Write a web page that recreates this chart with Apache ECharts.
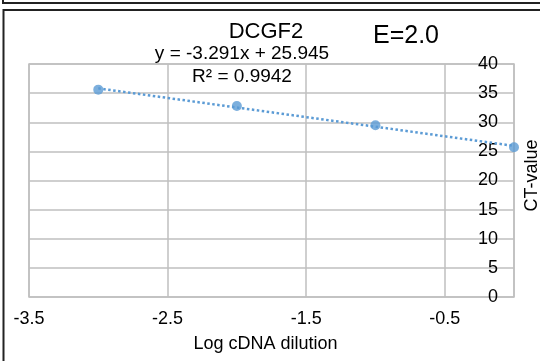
<!DOCTYPE html>
<html>
<head>
<meta charset="utf-8">
<script src="https://cdn.jsdelivr.net/npm/echarts@6/dist/echarts.min.js"></script>
<style>
  html, body { margin: 0; padding: 0; background: #fff; }
  #chart { width: 540px; height: 361px; }
</style>
</head>
<body>
<div id="chart"></div>
<script>
// dilution points (log) and measured CT values
const logDilution = [-3, -2, -1, 0]
const ctValues = [35.6, 32.8, 29.5, 25.7]
// linear trendline as shown on the chart
const slope = -3.291
const intercept = 25.945
const rSquared = 0.9942
const xTicks = [-3.5, -2.5, -1.5, -0.5]

const font = '"Liberation Sans", Arial, sans-serif'
const blue = '#5b9bd5'
const gridGrey = '#bfbfbf'

const chart = echarts.init(document.getElementById('chart'))

const trendX = [logDilution[0], logDilution[logDilution.length - 1]]
const trendData = trendX.map(x => [x, slope * x + intercept])

const option = {
  animation: false,
  backgroundColor: '#fff',
  textStyle: { fontFamily: font },
  grid: {
    left: 29, right: 26, top: 64, bottom: 64,
    outerBoundsMode: 'none',
    containLabel: false,
    show: true, borderColor: gridGrey, borderWidth: 1.5
  },
  xAxis: {
    type: 'value',
    min: -3.5, max: 0, interval: 1,
    axisLine: { show: false },
    axisTick: { show: false },
    splitLine: { lineStyle: { color: gridGrey, width: 1.5 } },
    axisLabel: {
      color: '#000', fontSize: 18, fontFamily: font, margin: 13,
      showMaxLabel: false,
      formatter: v => xTicks.includes(v) ? String(v) : ''
    },
    name: 'Log cDNA dilution',
    nameLocation: 'middle',
    nameGap: 38,
    nameTextStyle: { color: '#000', fontSize: 18, fontFamily: font, padding: [0, 12, 0, 0] }
  },
  yAxis: {
    type: 'value',
    position: 'right',
    min: 0, max: 40, interval: 5,
    axisLine: { show: false },
    axisTick: { show: false },
    splitLine: { lineStyle: { color: gridGrey, width: 1.5 } },
    axisLabel: { inside: true, margin: 16, color: '#000', fontSize: 18, fontFamily: font },
    name: 'CT-value',
    nameLocation: 'middle',
    nameRotate: 90,
    nameGap: 2,
    nameTextStyle: { color: '#000', fontSize: 18, fontFamily: font, padding: [0, 0, 0, 10] }
  },
  series: [
    {
      type: 'line',
      data: trendData,
      showSymbol: false,
      symbol: 'none',
      lineStyle: { color: blue, width: 2.5, type: [2.5, 2.5] },
      z: 2
    },
    {
      type: 'scatter',
      data: logDilution.map((x, i) => [x, ctValues[i]]),
      symbol: 'circle',
      symbolSize: 10,
      itemStyle: { color: blue },
      z: 3
    }
  ],
  graphic: [
    // frame lines of the figure panel
    { type: 'polyline', shape: { points: [[3, 0], [3, 3], [540, 3]] }, style: { stroke: '#222', lineWidth: 2, fill: null } },
    { type: 'polyline', shape: { points: [[3.5, 361], [3.5, 10], [540, 10]] }, style: { stroke: '#222', lineWidth: 2, fill: null } },
    { type: 'text', x: 266, y: 32, style: { text: 'DCGF2', font: '22px ' + font, fill: '#000', textAlign: 'center', textVerticalAlign: 'middle' } },
    { type: 'text', x: 373, y: 36, style: { text: 'E=2.0', font: '25px ' + font, fill: '#000', textAlign: 'left', textVerticalAlign: 'middle' } },
    { type: 'text', x: 242, y: 54, style: { text: 'y = ' + slope + 'x + ' + intercept, font: '19px ' + font, fill: '#000', textAlign: 'center', textVerticalAlign: 'middle' } },
    { type: 'text', x: 242, y: 77, style: { text: 'R² = ' + rSquared, font: '19px ' + font, fill: '#000', textAlign: 'center', textVerticalAlign: 'middle' } }
  ]
}

chart.setOption(option)
</script>
</body>
</html>
